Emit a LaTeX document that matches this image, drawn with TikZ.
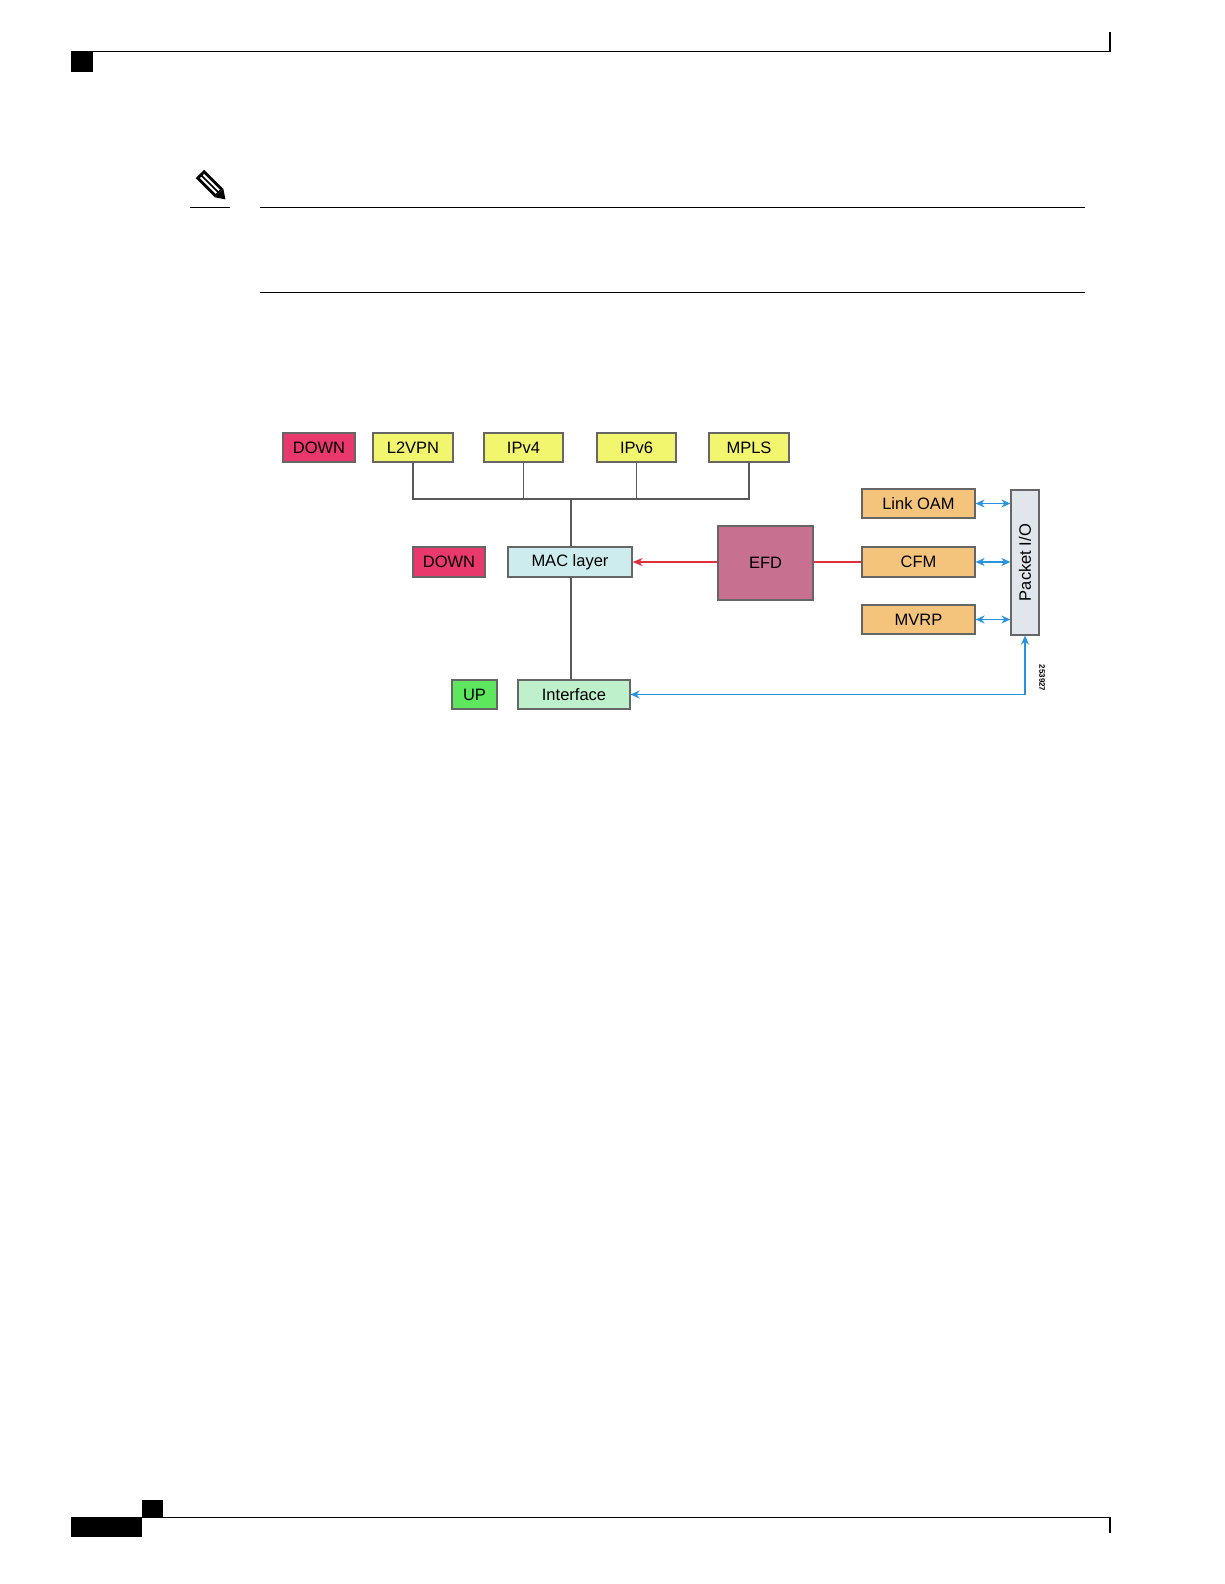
\documentclass[tikz,border=0pt]{standalone}
\usepackage{fontspec}
\setmainfont{Liberation Sans}
\usetikzlibrary{arrows.meta}
\definecolor{cdown}{HTML}{E8386C}
\definecolor{cyel}{HTML}{F2F56E}
\definecolor{cmac}{HTML}{CDECEE}
\definecolor{cint}{HTML}{BFF0CC}
\definecolor{cup}{HTML}{5EE65E}
\definecolor{cefd}{HTML}{C8708F}
\definecolor{cora}{HTML}{F5C47C}
\definecolor{cpio}{HTML}{E1E5EC}
\definecolor{cblue}{HTML}{2A93E0}
\definecolor{cred}{HTML}{E0303C}
\begin{document}
\begin{tikzpicture}[x=1pt,y=-1pt,
  bx/.style={draw=black!60,line width=1.2pt,inner sep=0pt,font=\fontsize{16.5}{16.5}\selectfont},
  conn/.style={draw=black!65,line width=1.2pt},
  blue/.style={draw=cblue,line width=1.6pt,{Stealth[length=9pt,width=8pt]}-{Stealth[length=9pt,width=8pt]}}]
\useasboundingbox (0,0) rectangle (1224,1584);
% page furniture
\draw[line width=1pt] (71,52) -- (1110,52);
\fill (71,52) rectangle (93,72);
\draw[line width=1.5pt] (1110,32) -- (1110,52);
\draw[line width=1pt] (71,1517) -- (1110,1517);
\fill (71,1517) rectangle (142,1537);
\fill (142,1500) rectangle (163,1517);
\draw[line width=1.5pt] (1110,1517) -- (1110,1533);
% pencil
\begin{scope}[shift={(212,186)},rotate=-45]
\fill (-17,-6) rectangle (10,6);
\fill[white] (-14,-3) rectangle (8,-1);
\fill[white] (-14,1) rectangle (8,3);
\fill (10,-6) -- (19,0) -- (10,6) -- cycle;
\end{scope}
\draw[line width=0.8pt] (190,207) -- (230,207);
\draw[line width=0.8pt] (260,207) -- (1085,207);
\draw[line width=0.8pt] (260,292) -- (1085,292);
% boxes
\node[bx,fill=cdown,minimum width=72,minimum height=29] (d1) at (319,447.5) {DOWN};
\node[bx,fill=cyel,minimum width=80,minimum height=29] (l2) at (413,447.5) {L2VPN};
\node[bx,fill=cyel,minimum width=79,minimum height=29] (v4) at (523.5,447.5) {IPv4};
\node[bx,fill=cyel,minimum width=79,minimum height=29] (v6) at (636.5,447.5) {IPv6};
\node[bx,fill=cyel,minimum width=80,minimum height=29] (mp) at (749,447.5) {MPLS};
\node[bx,fill=cdown,minimum width=72,minimum height=30] (d2) at (449,562) {DOWN};
\node[bx,fill=cmac,minimum width=124,minimum height=30] (mac) at (570,562) {MAC layer};
\node[bx,fill=cint,minimum width=112,minimum height=29] (intf) at (574,694.5) {Interface};
\node[bx,fill=cup,minimum width=45,minimum height=29] (up) at (474.5,694.5) {UP};
\node[bx,fill=cefd,minimum width=95,minimum height=74] (efd) at (765.5,563) {EFD};
\node[bx,fill=cora,minimum width=113,minimum height=29] (oam) at (918.5,503.5) {Link OAM};
\node[bx,fill=cora,minimum width=113,minimum height=30] (cfm) at (918.5,562) {CFM};
\node[bx,fill=cora,minimum width=113,minimum height=29] (mvrp) at (918.5,619.5) {MVRP};
\node[bx,fill=cpio,minimum width=28,minimum height=145] (pio) at (1025,562.5) {};
\node[rotate=90,font=\fontsize{16.5}{16.5}\selectfont] (piot) at (pio.center) {Packet I/O};
\node[rotate=-90,font=\fontsize{8}{8}\selectfont\bfseries,inner sep=0pt] (num) at (1042,678) {253927};
% connectors
\coordinate (bus) at (571,499);
\draw[conn] (l2.south) |- (mp.south |- bus) -- (mp.south);
\draw[conn] (v4.south) -- (v4.south |- bus);
\draw[conn] (v6.south) -- (v6.south |- bus);
\draw[conn] (bus) -- (bus |- mac.north);
\draw[conn] (mac.south -| bus) -- (intf.north -| bus);
\draw[draw=cred,line width=1.6pt,-{Stealth[length=10pt,width=8pt]}] (efd.west |- mac.east) -- (mac.east);
\draw[draw=cred,line width=1.6pt] (efd.east |- cfm.west) -- (cfm.west);
\draw[blue] (oam.east) -- (oam.east -| pio.west);
\draw[blue] (cfm.east) -- (cfm.east -| pio.west);
\draw[blue] (mvrp.east) -- (mvrp.east -| pio.west);
\draw[blue] (intf.east) -| (pio.south);
\end{tikzpicture}
\end{document}
